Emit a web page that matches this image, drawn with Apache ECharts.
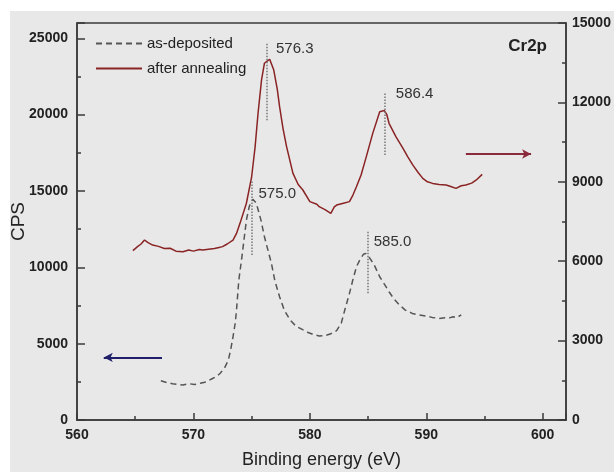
<!DOCTYPE html>
<html>
<head>
<meta charset="utf-8">
<script src="https://cdn.jsdelivr.net/npm/echarts@6/dist/echarts.min.js"></script>
<style>
  html, body { margin: 0; padding: 0; background: #fff; }
  #chart { width: 614px; height: 472px; }
</style>
</head>
<body>
<div id="chart"></div>
<script>
// as-deposited, left axis
let energyAsDep = [567.2, 567.7, 568.2, 568.7, 569.1, 569.6, 570.1, 570.6, 571.1, 571.6, 572.0, 572.3, 572.7, 573.0,
  573.2, 573.4, 573.6, 573.7, 573.9, 574.2, 574.55, 574.8, 575.1, 575.4, 575.8, 576.1, 576.7, 577.0, 577.4, 577.8,
  578.3, 578.8, 579.3, 579.8, 580.3, 580.8, 581.3, 581.8, 582.3, 582.7, 583.0, 583.4, 583.7, 584.0, 584.3, 584.6,
  584.8, 585.1, 585.5, 586.0, 586.4, 586.8, 587.2, 587.7, 588.2, 588.8, 589.4, 590.0, 590.5, 591.1, 591.6, 592.0,
  592.3, 592.6, 593.0];
let cpsAsDep = [2570, 2450, 2380, 2330, 2290, 2380, 2320, 2410, 2500, 2700, 2850, 3060, 3450, 3930,
  4600, 5450, 6400, 7200, 9160, 10900, 13090, 14000, 14450, 14200, 13090, 12000, 10250, 9100, 8070, 7200,
  6550, 6150, 5950, 5750, 5600, 5500, 5520, 5650, 5850, 6350, 7200, 8290, 9200, 10030, 10500, 10850,
  10900, 10650, 10200, 9380, 8900, 8400, 7950, 7530, 7200, 6980, 6880, 6810, 6720, 6650, 6700, 6690,
  6760, 6700, 6880];

// after annealing, right axis
let energyAnneal = [564.8, 565.2, 565.5, 565.8, 566.1, 566.5, 567.0, 567.5, 568.0, 568.5, 569.1, 569.6, 570.0,
  570.5, 570.8, 571.3, 571.8, 572.2, 572.5, 572.9, 573.4, 573.7, 574.0, 574.55, 575.0, 575.3, 575.55, 575.85,
  576.1, 576.3, 576.55, 576.9, 577.2, 577.4, 577.7, 578.0, 578.55, 579.0, 579.4, 580.0, 580.6, 580.8, 581.3,
  581.8, 582.1, 582.3, 582.8, 583.4, 583.7, 584.0, 584.4, 584.85, 585.4, 586.0, 586.4, 586.6, 586.8, 587.4,
  588.0, 588.4, 588.85, 589.3, 589.7, 590.1, 590.55, 591.1, 591.7, 592.1, 592.55, 593.0, 593.4, 593.9, 594.3, 594.8];
let cpsAnneal = [6400, 6550, 6650, 6800, 6700, 6610, 6560, 6480, 6490, 6380, 6360, 6420, 6380,
  6440, 6420, 6450, 6480, 6520, 6550, 6650, 6800, 7050, 7430, 8190, 9190, 10330, 11590, 12850,
  13480, 13550, 13630, 13220, 12500, 11840, 11000, 10330, 9320, 8900, 8690, 8250, 8150, 8060, 7950,
  7810, 8050, 8120, 8180, 8250, 8500, 8810, 9260, 9950, 10830, 11650, 11690, 11550, 11210, 10700,
  10260, 9950, 9630, 9350, 9130, 9000, 8940, 8900, 8880, 8820, 8750, 8850, 8880, 8950, 9070, 9280];

let peakLabels = ['575.0', '585.0', '576.3', '586.4'];

function zip(xs, ys) {
  let out = [];
  for (let i = 0; i < xs.length; i++) out.push([xs[i], ys[i]]);
  return out;
}

let font = 'Liberation Sans, Arial, sans-serif';
let axisColor = '#3a3a3a';
let dotLine = { color: '#777', type: 'dotted', width: 1.5 };
let plain = function (v) { return String(v); };

function peakLine(x, y0, y1) {
  return [{ coord: [x, y0], lineStyle: dotLine }, { coord: [x, y1] }];
}
function peakText(x, y, txt) {
  return {
    coord: [x, y], symbol: 'circle', symbolSize: 1,
    itemStyle: { color: 'rgba(0,0,0,0)' },
    label: { show: true, position: 'inside', formatter: txt, color: '#333', fontSize: 15, fontFamily: font }
  };
}

let chart = echarts.init(document.getElementById('chart'));
let option = {
  animation: false,
  backgroundColor: '#fff',
  graphic: [{
    type: 'rect', left: 10, top: 11, z: -100, silent: true,
    shape: { width: 604, height: 461 },
    style: { fill: '#e8e8e8' }
  }],
  title: {
    text: 'Cr2p', right: 62, top: 33,
    textStyle: { fontSize: 17, fontWeight: 'bold', color: '#222', fontFamily: font }
  },
  legend: {
    orient: 'vertical', left: 90, top: 31, itemWidth: 46, itemHeight: 14, itemGap: 10,
    itemStyle: { opacity: 0 },
    textStyle: { fontSize: 15, color: '#222', fontFamily: font },
    data: ['as-deposited', 'after annealing']
  },
  grid: {
    left: 77, right: 48, top: 23, bottom: 52, show: true,
    outerBoundsMode: 'none', containLabel: false,
    borderColor: axisColor, borderWidth: 1.5, backgroundColor: 'transparent'
  },
  xAxis: {
    type: 'value', min: 560, max: 602, interval: 10,
    name: 'Binding energy (eV)', nameLocation: 'middle', nameGap: 31, nameMoveOverlap: false,
    nameTextStyle: { fontSize: 18, color: '#222', fontFamily: font },
    axisLine: { lineStyle: { color: axisColor, width: 1.5 } },
    axisTick: { inside: true, length: 7, lineStyle: { color: axisColor, width: 1.5 } },
    minorTick: { show: true, splitNumber: 2, length: 4, lineStyle: { color: axisColor, width: 1.5 } },
    axisLabel: { margin: 8, showMaxLabel: false, formatter: plain, fontSize: 14, fontWeight: 'bold', color: '#222', fontFamily: font },
    splitLine: { show: false }
  },
  yAxis: [{
    type: 'value', min: 0, max: 26000, interval: 5000, position: 'left',
    name: 'CPS', nameLocation: 'middle', nameGap: 49, nameMoveOverlap: false,
    nameTextStyle: { fontSize: 19, color: '#222', fontFamily: font },
    axisLine: { show: true, lineStyle: { color: axisColor, width: 1.5 } },
    axisTick: { show: true, inside: true, length: 8, lineStyle: { color: axisColor, width: 1.5 } },
    minorTick: { show: true, splitNumber: 2, length: 4, lineStyle: { color: axisColor, width: 1.5 } },
    axisLabel: { margin: 9, showMaxLabel: false, formatter: plain, fontSize: 14, fontWeight: 'bold', color: '#222', fontFamily: font },
    splitLine: { show: false }
  }, {
    type: 'value', min: 0, max: 15000, interval: 3000, position: 'right',
    axisLine: { show: true, lineStyle: { color: axisColor, width: 1.5 } },
    axisTick: { show: true, inside: true, length: 8, lineStyle: { color: axisColor, width: 1.5 } },
    minorTick: { show: true, splitNumber: 2, length: 4, lineStyle: { color: axisColor, width: 1.5 } },
    axisLabel: { margin: 6, formatter: plain, fontSize: 14, fontWeight: 'bold', color: '#222', fontFamily: font },
    splitLine: { show: false }
  }],
  series: [{
    name: 'as-deposited', type: 'line', yAxisIndex: 0, symbol: 'none',
    data: zip(energyAsDep, cpsAsDep),
    color: '#555',
    lineStyle: { color: '#555', width: 1.5, type: [6, 4] },
    markLine: {
      silent: true, symbol: 'none', label: { show: false },
      data: [
        peakLine(575.0, 10800, 15700),
        peakLine(585.0, 8300, 12400),
        [{ coord: [567.3, 4100], symbol: 'none', lineStyle: { color: '#20206a', width: 2, type: 'solid' } },
         { coord: [562.3, 4100], symbol: 'arrow', symbolSize: [7, 9] }]
      ]
    },
    markPoint: {
      silent: true,
      data: [peakText(577.2, 14790, peakLabels[0]), peakText(587.1, 11670, peakLabels[1])]
    }
  }, {
    name: 'after annealing', type: 'line', yAxisIndex: 1, symbol: 'none',
    data: zip(energyAnneal, cpsAnneal),
    color: '#8a2323',
    lineStyle: { color: '#8a2323', width: 1.5 },
    markLine: {
      silent: true, symbol: 'none', label: { show: false },
      data: [
        peakLine(576.3, 11330, 14240),
        peakLine(586.4, 10010, 12350),
        [{ coord: [593.4, 10050], symbol: 'none', lineStyle: { color: '#8b2a3a', width: 2, type: 'solid' } },
         { coord: [599.0, 10050], symbol: 'arrow', symbolSize: [7, 9] }]
      ]
    },
    markPoint: {
      silent: true,
      data: [peakText(578.7, 14020, peakLabels[2]), peakText(589.0, 12340, peakLabels[3])]
    }
  }]
};
chart.setOption(option);
</script>
</body>
</html>
